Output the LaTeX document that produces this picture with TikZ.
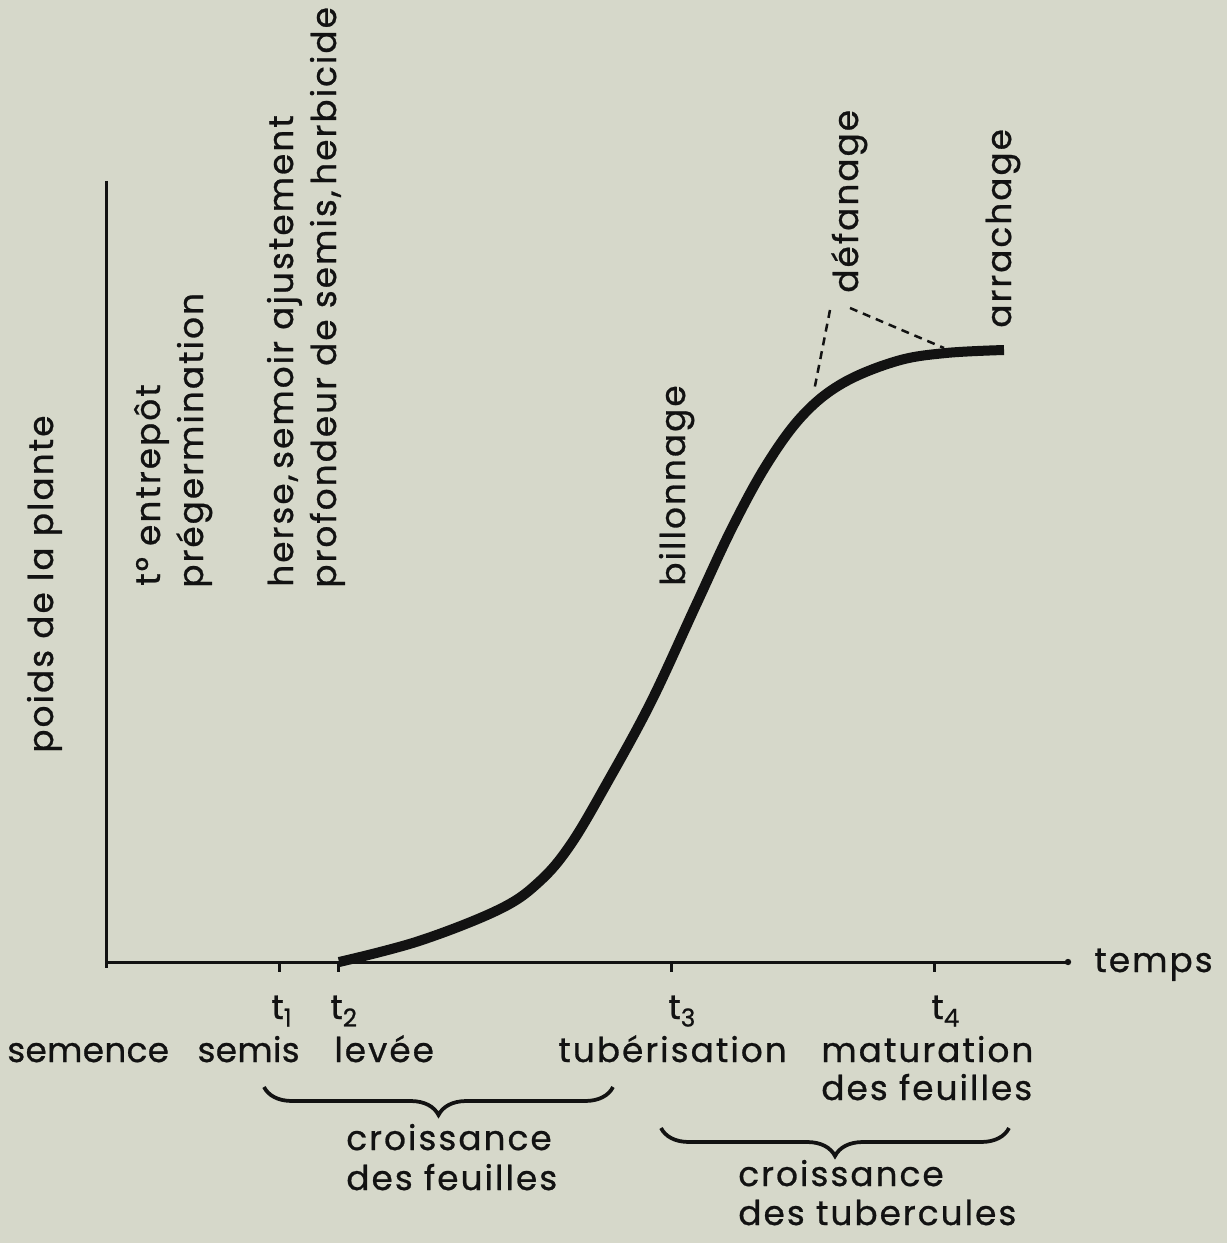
\documentclass[tikz,border=0pt]{standalone}
\usepackage{fontspec}
\setmainfont{Poppins}[LetterSpace=6,FakeBold=0.8]
\usetikzlibrary{decorations.pathreplacing}
\definecolor{bg}{RGB}{214,216,202}
\definecolor{ink}{RGB}{18,18,18}
\newcommand\tlab[1]{t\raisebox{-0.4ex}{\fontsize{14}{14}\selectfont #1}}
\begin{document}
\begin{tikzpicture}[x=0.02cm,y=-0.02cm,
  txt/.style={font=\fontsize{19.5}{22}\selectfont, inner sep=0pt, text=ink},
  tighttxt/.style={txt, font=\fontsize{19.5}{22}\selectfont\addfontfeature{LetterSpace=1}},
  vtxt/.style={txt, rotate=90, anchor=base west},
  htxt/.style={txt, anchor=base west},
  axisline/.style={line width=0.06cm, draw=ink},
  tickmark/.style={line width=0.06cm, draw=ink},
  growth/.style={line width=0.2cm, draw=ink},
  guide/.style={line width=0.05cm, draw=ink, dash pattern=on 0.16cm off 0.12cm},
  bracedec/.style={decorate, decoration={brace, mirror, amplitude=0.56cm}, line width=0.075cm, draw=ink}]

\fill[bg] (0,0) rectangle (1227,1243);
\useasboundingbox (0,0) rectangle (1227,1243);

% axes
\coordinate (Ytop) at (106,181);
\coordinate (Ybot) at (106,968);
\coordinate (O) at (106,962);
\coordinate (Xend) at (1068,962);
\draw[axisline] (Ytop) -- (Ybot);
\draw[axisline] (O) -- (Xend);
\fill[ink] (Xend) circle[radius=3.2];

% ticks
\foreach \n/\x in {1/279,2/338,3/671,4/934}{
  \coordinate (tk\n a) at (\x,962);
  \coordinate (tk\n b) at (\x,972);
  \draw[tickmark] (tk\n a) -- (tk\n b);
}

% growth curve
\draw[growth] plot[smooth, tension=0.6] coordinates {
  (339,962) (419,941) (500,909) (540,881) (571,844) (607,783) (651,702)
  (696,605) (732,528) (767,464) (803,415) (843,383) (897,361) (946,353) (1004,350)};

% dashed guides from defanage
\coordinate (dfA) at (830,310);
\coordinate (dfB) at (814,391);
\coordinate (dfC) at (850,308);
\coordinate (dfD) at (944,348);
\draw[guide] (dfA) -- (dfB);
\draw[guide] (dfC) -- (dfD);

% braces
\coordinate (br1a) at (264,1087);
\coordinate (br1b) at (613,1087);
\coordinate (br2a) at (661,1128);
\coordinate (br2b) at (1009,1128);
\draw[bracedec] (br1a) -- (br1b);
\draw[bracedec] (br2a) -- (br2b);

% vertical labels
\node[vtxt] (ylab) at (53,753) {poids de la plante};
\node[vtxt] (entr) at (160,586) {t° entrepôt};
\node[vtxt] (pregerm) at (203,588) {prégermination};
\node[vtxt] (herse) at (293,587) {herse,\,semoir ajustement};
\node[vtxt] (prof) at (336,588) {profondeur de semis,\,herbicide};
\node[vtxt] (billon) at (685,586) {billonnage};
\node[vtxt] (defan) at (858,293) {défanage};
\node[vtxt] (arrach) at (1011,328) {arrachage};

% horizontal labels
\node[htxt] (temps) at (1094,972) {temps};
\node[htxt] (t1) at (271,1019) {\tlab{1}};
\node[htxt] (t2) at (330,1019) {\tlab{2}};
\node[htxt] (t3) at (668,1019) {\tlab{3}};
\node[htxt] (t4) at (931,1019) {\tlab{4}};
\node[tighttxt, anchor=base west] (semence) at (7,1062) {semence};
\node[tighttxt, anchor=base east] (semis) at (300,1062) {semis};
\node[htxt] (levee) at (334,1062) {levée};
\node[htxt] (tuber) at (558,1062) {tubérisation};
\node[htxt] (matur) at (821,1062) {maturation};
\node[htxt] (matur2) at (821,1100) {des feuilles};
\node[htxt] (crf1) at (346,1150) {croissance};
\node[htxt] (crf2) at (346,1190) {des feuilles};
\node[htxt] (crt1) at (738,1186) {croissance};
\node[htxt] (crt2) at (738,1225) {des tubercules};
\end{tikzpicture}
\end{document}
